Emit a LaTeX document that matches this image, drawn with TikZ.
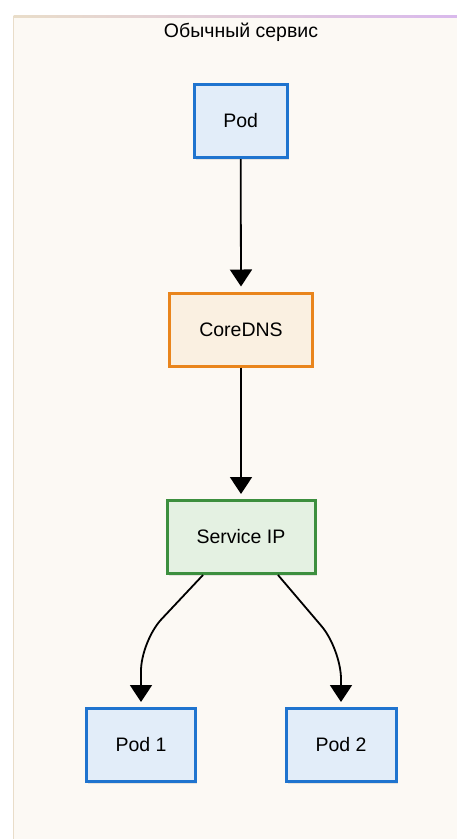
\documentclass[tikz,border=0pt]{standalone}
\usepackage{fontspec}
\setmainfont{Liberation Sans}
\usetikzlibrary{arrows.meta,shadows,calc}
\definecolor{panelbg}{HTML}{FCF9F4}
\definecolor{panelline}{HTML}{E9DDC9}
\definecolor{panelpurple}{HTML}{D9B9EC}
\definecolor{blueline}{HTML}{1F74CF}
\definecolor{bluefill}{HTML}{E2EDF9}
\definecolor{orangeline}{HTML}{E9851C}
\definecolor{orangefill}{HTML}{FAF0E1}
\definecolor{greenline}{HTML}{3C8F3E}
\definecolor{greenfill}{HTML}{E4F1E2}
\tikzset{
  box/.style={draw, line width=3pt, minimum height=73pt, font=\fontsize{19.5}{22}\selectfont,
    drop shadow={opacity=0.18, shadow xshift=1.5pt, shadow yshift=-2pt}},
  bluebox/.style={box, draw=blueline, fill=bluefill},
  orangebox/.style={box, draw=orangeline, fill=orangefill},
  greenbox/.style={box, draw=greenline, fill=greenfill},
  arr/.style={line width=1.8pt, -{Triangle[width=22pt,length=17pt]}, shorten >=5pt},
  curvearr/.style={arr, rounded corners=30pt}
}
\begin{document}
\begin{tikzpicture}[x=1pt,y=-1pt]
\useasboundingbox (0,0) rectangle (457,839);
\fill[white] (0,0) rectangle (457,839);
\fill[panelbg] (13.5,16.5) rectangle (457,839);
\draw[panelline, line width=1.2pt] (13.5,839) -- (13.5,16.5);
\shade[left color=panelline, right color=panelpurple] (13.5,15.9) rectangle (457,17.1);
\node[font=\fontsize{19.5}{22}\selectfont] (title) at (241,32) {Обычный сервис};
\node[bluebox, minimum width=93pt] (pod) at (240.7,121) {Pod};
\node[orangebox, minimum width=143pt] (dns) at (241,329.5) {CoreDNS};
\node[greenbox, minimum width=148pt] (svc) at (241,537) {Service IP};
\node[bluebox, minimum width=109pt] (pod1) at (141,745) {Pod 1};
\node[bluebox, minimum width=110pt] (pod2) at (341,745) {Pod 2};
\coordinate (c1) at ($(pod1.north |- svc.south)+(0,66)$);
\coordinate (c2) at ($(pod2.north |- svc.south)+(0,74)$);
\draw[arr] (pod.south) -- (dns.north);
\draw[arr] (dns.south) -- (svc.north);
\draw[curvearr] ([xshift=-38pt]svc.south) -- (c1) -- (pod1.north);
\draw[curvearr] ([xshift=37pt]svc.south) -- (c2) -- (pod2.north);
\end{tikzpicture}
\end{document}
